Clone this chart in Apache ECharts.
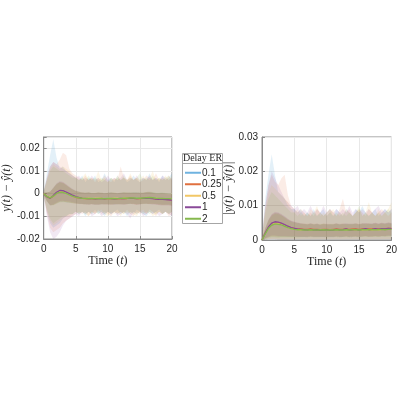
<!DOCTYPE html>
<html>
<head>
<meta charset="utf-8">
<script src="https://cdn.jsdelivr.net/npm/echarts@6/dist/echarts.min.js"></script>
<style>
  html, body { margin: 0; padding: 0; background: #fff; }
  #chart { width: 400px; height: 400px; }
</style>
</head>
<body>
<div id="chart"></div>
<script>
// time grid (t)
const T = [0, 0.5, 1, 1.5, 2, 2.5, 3, 3.5, 4, 4.5,
  5, 5.5, 6, 6.5, 7, 7.5, 8, 8.5, 9, 9.5,
  10, 10.5, 11, 11.5, 12, 12.5, 13, 13.5, 14, 14.5,
  15, 15.5, 16, 16.5, 17, 17.5, 18, 18.5, 19, 19.5, 20];

const delays = ['0.1', '0.25', '0.5', '1', '2'];
const lineColors = ['#6fb3e0', '#e0703f', '#f2c766', '#8a4a99', '#86b84e'];
const bandColors = ['#0072BD', '#D95319', '#EDB120', '#7E2F8E', '#77AC30'];

const xTicks = [0, 5, 10, 15, 20];

// ---- left panel: y(t) - yhat(t) ----
const meanL1 = [0, -0.0012, -0.0019, -0.0010, 0.0003, 0.0009, 0.0008, 0.0002, -0.0005, -0.0010,
  -0.0015, -0.0018, -0.0020, -0.0021, -0.0020, -0.0021, -0.0022, -0.0021, -0.0021, -0.0022,
  -0.0021, -0.0020, -0.0021, -0.0022, -0.0021, -0.0020, -0.0020, -0.0019, -0.0019, -0.0020,
  -0.0021, -0.0020, -0.0018, -0.0018, -0.0019, -0.0021, -0.0022, -0.0022, -0.0023, -0.0024, -0.0025];
const meanL2 = [0, -0.0013, -0.0020, -0.0011, 0.0002, 0.0010, 0.0009, 0.0003, -0.0004, -0.0011,
  -0.0016, -0.0019, -0.0021, -0.0022, -0.0021, -0.0022, -0.0023, -0.0022, -0.0021, -0.0023,
  -0.0022, -0.0021, -0.0022, -0.0023, -0.0022, -0.0021, -0.0021, -0.0020, -0.0021, -0.0022,
  -0.0022, -0.0021, -0.0019, -0.0019, -0.0021, -0.0023, -0.0024, -0.0024, -0.0025, -0.0026, -0.0027];
const meanL3 = [0, -0.0011, -0.0018, -0.0009, 0.0004, 0.0010, 0.0009, 0.0003, -0.0004, -0.0010,
  -0.0014, -0.0017, -0.0019, -0.0020, -0.0020, -0.0021, -0.0021, -0.0020, -0.0021, -0.0022,
  -0.0021, -0.0021, -0.0020, -0.0021, -0.0021, -0.0020, -0.0019, -0.0019, -0.0020, -0.0021,
  -0.0020, -0.0019, -0.0018, -0.0019, -0.0020, -0.0021, -0.0022, -0.0023, -0.0023, -0.0024, -0.0025];
const meanL4 = [0, -0.0013, -0.0020, -0.0008, 0.0006, 0.0014, 0.0013, 0.0007, 0.0000, -0.0007,
  -0.0013, -0.0017, -0.0020, -0.0021, -0.0022, -0.0022, -0.0023, -0.0022, -0.0022, -0.0023,
  -0.0022, -0.0022, -0.0023, -0.0022, -0.0021, -0.0022, -0.0021, -0.0020, -0.0021, -0.0022,
  -0.0021, -0.0020, -0.0019, -0.0020, -0.0022, -0.0024, -0.0025, -0.0025, -0.0026, -0.0027, -0.0028];
const meanL5 = [0, -0.0012, -0.0019, -0.0011, 0.0001, 0.0007, 0.0006, 0.0001, -0.0005, -0.0011,
  -0.0015, -0.0018, -0.0020, -0.0021, -0.0021, -0.0021, -0.0022, -0.0021, -0.0021, -0.0022,
  -0.0021, -0.0021, -0.0021, -0.0022, -0.0021, -0.0020, -0.0020, -0.0019, -0.0019, -0.0020,
  -0.0020, -0.0019, -0.0018, -0.0017, -0.0018, -0.0020, -0.0021, -0.0021, -0.0022, -0.0022, -0.0023];

// inner band half widths (above / below the mean)
const innerUpL = [0.0004, 0.0018, 0.0028, 0.0035, 0.0040, 0.0042, 0.0040, 0.0036, 0.0032, 0.0029,
  0.0027, 0.0026, 0.0025, 0.0025, 0.0026, 0.0024, 0.0025, 0.0026, 0.0025, 0.0024,
  0.0025, 0.0026, 0.0025, 0.0024, 0.0025, 0.0026, 0.0025, 0.0024, 0.0025, 0.0026,
  0.0025, 0.0024, 0.0025, 0.0026, 0.0025, 0.0024, 0.0025, 0.0026, 0.0025, 0.0024, 0.0025];
const innerDnL = [0.0004, 0.0020, 0.0032, 0.0040, 0.0045, 0.0046, 0.0044, 0.0040, 0.0035, 0.0031,
  0.0028, 0.0027, 0.0026, 0.0026, 0.0027, 0.0025, 0.0026, 0.0027, 0.0026, 0.0025,
  0.0026, 0.0027, 0.0026, 0.0025, 0.0026, 0.0027, 0.0026, 0.0025, 0.0026, 0.0027,
  0.0026, 0.0025, 0.0026, 0.0027, 0.0026, 0.0025, 0.0026, 0.0027, 0.0026, 0.0025, 0.0026];

// outer (min/max) bands
const hiL1 = [0.001, 0.009, 0.017, 0.024, 0.016, 0.011, 0.012, 0.010, 0.009, 0.008,
  0.007, 0.006, 0.008, 0.005, 0.007, 0.006, 0.008, 0.005, 0.006, 0.009,
  0.006, 0.007, 0.005, 0.008, 0.006, 0.007, 0.005, 0.006, 0.008, 0.006,
  0.005, 0.007, 0.006, 0.009, 0.006, 0.007, 0.005, 0.008, 0.006, 0.007, 0.009];
const loL1 = [-0.001, -0.008, -0.013, -0.015, -0.014, -0.013, -0.011, -0.010, -0.009, -0.009,
  -0.008, -0.009, -0.008, -0.010, -0.008, -0.009, -0.007, -0.009, -0.008, -0.010,
  -0.008, -0.009, -0.008, -0.007, -0.009, -0.008, -0.010, -0.008, -0.009, -0.007,
  -0.008, -0.009, -0.010, -0.008, -0.009, -0.008, -0.007, -0.009, -0.008, -0.009, -0.008];
const hiL2 = [0.001, 0.007, 0.012, 0.014, 0.013, 0.015, 0.018, 0.017, 0.011, 0.009,
  0.008, 0.007, 0.006, 0.008, 0.006, 0.007, 0.005, 0.007, 0.006, 0.008,
  0.006, 0.005, 0.007, 0.006, 0.012, 0.007, 0.006, 0.008, 0.006, 0.007,
  0.005, 0.006, 0.008, 0.007, 0.006, 0.009, 0.006, 0.007, 0.006, 0.008, 0.006];
const loL2 = [-0.001, -0.009, -0.015, -0.017, -0.016, -0.015, -0.013, -0.012, -0.011, -0.010,
  -0.009, -0.008, -0.009, -0.008, -0.010, -0.008, -0.009, -0.007, -0.009, -0.008,
  -0.009, -0.010, -0.008, -0.009, -0.008, -0.009, -0.007, -0.009, -0.010, -0.008,
  -0.009, -0.008, -0.009, -0.007, -0.008, -0.010, -0.008, -0.009, -0.008, -0.010, -0.009];
const hiL3 = [0.001, 0.006, 0.011, 0.013, 0.012, 0.011, 0.012, 0.011, 0.010, 0.008,
  0.007, 0.006, 0.007, 0.009, 0.006, 0.007, 0.006, 0.010, 0.006, 0.007,
  0.005, 0.007, 0.006, 0.008, 0.006, 0.007, 0.006, 0.009, 0.006, 0.007,
  0.006, 0.008, 0.006, 0.007, 0.010, 0.006, 0.007, 0.006, 0.008, 0.006, 0.008];
const loL3 = [-0.001, -0.008, -0.012, -0.014, -0.013, -0.012, -0.011, -0.010, -0.010, -0.009,
  -0.008, -0.009, -0.008, -0.009, -0.010, -0.008, -0.009, -0.008, -0.007, -0.009,
  -0.010, -0.008, -0.009, -0.008, -0.010, -0.008, -0.009, -0.008, -0.009, -0.010,
  -0.008, -0.007, -0.009, -0.008, -0.010, -0.009, -0.008, -0.009, -0.008, -0.009, -0.008];
const hiL4 = [0.001, 0.007, 0.012, 0.014, 0.013, 0.012, 0.011, 0.010, 0.009, 0.008,
  0.007, 0.008, 0.006, 0.007, 0.006, 0.008, 0.006, 0.007, 0.005, 0.006,
  0.008, 0.006, 0.007, 0.006, 0.007, 0.009, 0.006, 0.007, 0.006, 0.008,
  0.006, 0.007, 0.006, 0.008, 0.006, 0.007, 0.006, 0.008, 0.007, 0.006, 0.007];
const loL4 = [-0.001, -0.010, -0.017, -0.020, -0.019, -0.017, -0.014, -0.012, -0.011, -0.010,
  -0.009, -0.010, -0.008, -0.009, -0.008, -0.010, -0.009, -0.008, -0.010, -0.009,
  -0.008, -0.009, -0.008, -0.010, -0.009, -0.008, -0.009, -0.011, -0.008, -0.009,
  -0.008, -0.010, -0.009, -0.008, -0.009, -0.008, -0.010, -0.009, -0.008, -0.009, -0.010];
const hiL5 = [0.001, 0.006, 0.010, 0.012, 0.011, 0.010, 0.010, 0.009, 0.008, 0.007,
  0.007, 0.006, 0.007, 0.006, 0.008, 0.006, 0.007, 0.006, 0.007, 0.006,
  0.005, 0.007, 0.006, 0.007, 0.006, 0.008, 0.006, 0.007, 0.006, 0.007,
  0.009, 0.006, 0.007, 0.006, 0.008, 0.006, 0.007, 0.006, 0.007, 0.008, 0.006];
const loL5 = [-0.001, -0.007, -0.011, -0.013, -0.012, -0.011, -0.010, -0.010, -0.009, -0.009,
  -0.008, -0.009, -0.008, -0.009, -0.008, -0.009, -0.008, -0.009, -0.008, -0.009,
  -0.008, -0.009, -0.008, -0.009, -0.008, -0.009, -0.008, -0.009, -0.008, -0.009,
  -0.008, -0.009, -0.008, -0.009, -0.008, -0.009, -0.008, -0.009, -0.008, -0.009, -0.008];

// ---- right panel: |y(t) - yhat(t)| ----
const meanR1 = [0, 0.0019, 0.0036, 0.0046, 0.0050, 0.0049, 0.0046, 0.0042, 0.0038, 0.0035,
  0.0033, 0.0032, 0.0031, 0.0030, 0.0030, 0.0031, 0.0030, 0.0030, 0.0029, 0.0030,
  0.0030, 0.0029, 0.0030, 0.0031, 0.0030, 0.0030, 0.0031, 0.0030, 0.0031, 0.0031,
  0.0030, 0.0031, 0.0032, 0.0031, 0.0031, 0.0032, 0.0031, 0.0032, 0.0032, 0.0033, 0.0033];
const meanR2 = [0, 0.0020, 0.0037, 0.0047, 0.0051, 0.0050, 0.0047, 0.0043, 0.0039, 0.0036,
  0.0034, 0.0033, 0.0032, 0.0031, 0.0031, 0.0032, 0.0031, 0.0031, 0.0030, 0.0031,
  0.0031, 0.0030, 0.0031, 0.0032, 0.0031, 0.0031, 0.0032, 0.0031, 0.0032, 0.0032,
  0.0031, 0.0032, 0.0033, 0.0032, 0.0032, 0.0033, 0.0032, 0.0033, 0.0033, 0.0034, 0.0034];
const meanR3 = [0, 0.0019, 0.0035, 0.0045, 0.0049, 0.0048, 0.0045, 0.0041, 0.0037, 0.0034,
  0.0032, 0.0031, 0.0030, 0.0030, 0.0029, 0.0030, 0.0030, 0.0029, 0.0029, 0.0030,
  0.0029, 0.0029, 0.0030, 0.0030, 0.0029, 0.0030, 0.0030, 0.0029, 0.0030, 0.0030,
  0.0030, 0.0030, 0.0031, 0.0030, 0.0030, 0.0031, 0.0030, 0.0031, 0.0031, 0.0031, 0.0032];
const meanR4 = [0, 0.0020, 0.0038, 0.0049, 0.0053, 0.0052, 0.0049, 0.0045, 0.0040, 0.0036,
  0.0034, 0.0032, 0.0031, 0.0030, 0.0029, 0.0031, 0.0029, 0.0030, 0.0028, 0.0029,
  0.0030, 0.0028, 0.0029, 0.0031, 0.0029, 0.0030, 0.0032, 0.0029, 0.0030, 0.0031,
  0.0029, 0.0031, 0.0033, 0.0030, 0.0031, 0.0033, 0.0031, 0.0033, 0.0032, 0.0034, 0.0033];
const meanR5 = [0, 0.0018, 0.0034, 0.0043, 0.0047, 0.0046, 0.0044, 0.0040, 0.0036, 0.0033,
  0.0031, 0.0030, 0.0030, 0.0029, 0.0029, 0.0030, 0.0029, 0.0029, 0.0029, 0.0030,
  0.0029, 0.0029, 0.0029, 0.0030, 0.0029, 0.0029, 0.0030, 0.0029, 0.0030, 0.0030,
  0.0029, 0.0030, 0.0030, 0.0030, 0.0030, 0.0030, 0.0030, 0.0031, 0.0030, 0.0031, 0.0031];

const innerUpR = [0.0003, 0.0014, 0.0022, 0.0027, 0.0029, 0.0029, 0.0027, 0.0025, 0.0022, 0.0020,
  0.0019, 0.0018, 0.0017, 0.0017, 0.0016, 0.0017, 0.0016, 0.0017, 0.0016, 0.0017,
  0.0016, 0.0017, 0.0016, 0.0017, 0.0016, 0.0017, 0.0016, 0.0017, 0.0016, 0.0017,
  0.0016, 0.0017, 0.0016, 0.0017, 0.0016, 0.0017, 0.0016, 0.0017, 0.0016, 0.0017, 0.0016];
const innerDnR = [0.0000, 0.0015, 0.0028, 0.0036, 0.0040, 0.0040, 0.0037, 0.0033, 0.0029, 0.0026,
  0.0024, 0.0023, 0.0022, 0.0021, 0.0021, 0.0021, 0.0021, 0.0021, 0.0020, 0.0021,
  0.0021, 0.0020, 0.0021, 0.0021, 0.0021, 0.0021, 0.0021, 0.0021, 0.0021, 0.0021,
  0.0021, 0.0021, 0.0021, 0.0021, 0.0021, 0.0021, 0.0021, 0.0021, 0.0021, 0.0021, 0.0021];

const loR = [0, 0.0002, 0.0003, 0.0003, 0.0003, 0.0002, 0.0002, 0.0002, 0.0002, 0.0002,
  0.0002, 0.0002, 0.0002, 0.0002, 0.0002, 0.0002, 0.0002, 0.0002, 0.0002, 0.0002,
  0.0002, 0.0002, 0.0002, 0.0002, 0.0002, 0.0002, 0.0002, 0.0002, 0.0002, 0.0002,
  0.0002, 0.0002, 0.0002, 0.0002, 0.0002, 0.0002, 0.0002, 0.0002, 0.0002, 0.0002, 0.0002];
const hiR1 = [0.001, 0.012, 0.019, 0.025, 0.019, 0.014, 0.013, 0.012, 0.010, 0.009,
  0.009, 0.008, 0.009, 0.007, 0.008, 0.007, 0.009, 0.007, 0.008, 0.009,
  0.007, 0.008, 0.007, 0.009, 0.008, 0.007, 0.009, 0.008, 0.007, 0.009,
  0.008, 0.010, 0.008, 0.007, 0.008, 0.009, 0.007, 0.008, 0.009, 0.008, 0.009];
const hiR2 = [0.001, 0.010, 0.016, 0.019, 0.017, 0.016, 0.018, 0.019, 0.013, 0.010,
  0.009, 0.008, 0.009, 0.008, 0.007, 0.008, 0.007, 0.009, 0.008, 0.007,
  0.008, 0.009, 0.008, 0.007, 0.009, 0.012, 0.008, 0.009, 0.007, 0.008,
  0.009, 0.008, 0.007, 0.009, 0.008, 0.007, 0.008, 0.009, 0.008, 0.007, 0.008];
const hiR3 = [0.001, 0.009, 0.014, 0.016, 0.015, 0.014, 0.013, 0.012, 0.011, 0.009,
  0.008, 0.009, 0.007, 0.008, 0.007, 0.009, 0.008, 0.010, 0.007, 0.008,
  0.007, 0.008, 0.009, 0.007, 0.008, 0.007, 0.009, 0.008, 0.007, 0.008,
  0.009, 0.007, 0.008, 0.011, 0.008, 0.007, 0.009, 0.007, 0.008, 0.009, 0.011];
const hiR4 = [0.001, 0.010, 0.016, 0.020, 0.018, 0.016, 0.014, 0.012, 0.011, 0.010,
  0.009, 0.010, 0.008, 0.009, 0.008, 0.010, 0.008, 0.009, 0.008, 0.010,
  0.008, 0.009, 0.008, 0.009, 0.008, 0.009, 0.008, 0.010, 0.008, 0.009,
  0.008, 0.009, 0.008, 0.009, 0.008, 0.009, 0.010, 0.008, 0.009, 0.008, 0.009];
const hiR5 = [0.001, 0.008, 0.012, 0.014, 0.013, 0.012, 0.011, 0.010, 0.009, 0.008,
  0.008, 0.007, 0.008, 0.007, 0.008, 0.007, 0.008, 0.007, 0.008, 0.007,
  0.008, 0.009, 0.007, 0.008, 0.007, 0.008, 0.007, 0.008, 0.007, 0.008,
  0.010, 0.007, 0.008, 0.007, 0.008, 0.007, 0.008, 0.007, 0.008, 0.009, 0.008];

const leftMeans = [meanL1, meanL2, meanL3, meanL4, meanL5];
const leftHi = [hiL1, hiL2, hiL3, hiL4, hiL5];
const leftLo = [loL1, loL2, loL3, loL4, loL5];
const rightMeans = [meanR1, meanR2, meanR3, meanR4, meanR5];
const rightHi = [hiR1, hiR2, hiR3, hiR4, hiR5];
const rightLo = [loR, loR, loR, loR, loR];

const axisColor = '#8a8a8a';
const textColor = '#262626';
const sans = 'Liberation Sans';
const serif = 'Liberation Serif';

// shaded band between lo and hi, one polygon through the axis scales
function band(idx, lo, hi, color, opacity) {
  return {
    type: 'custom', xAxisIndex: idx, yAxisIndex: idx, silent: true,
    data: T.map((t, i) => [t, lo[i], hi[i]]),
    encode: { x: 0, y: [1, 2] },
    renderItem: (params, api) => {
      if (params.dataIndex !== 0) return;
      const pts = [];
      T.forEach((t, i) => pts.push(api.coord([t, hi[i]])));
      for (let i = T.length - 1; i >= 0; i--) pts.push(api.coord([T[i], lo[i]]));
      return { type: 'polygon', shape: { points: pts }, style: { fill: color, opacity: opacity } };
    }
  };
}

function panelSeries(idx, means, his, los, up, dn) {
  const out = [];
  means.forEach((m, k) => {
    out.push(band(idx, los[k], his[k], bandColors[k], 0.11));
  });
  means.forEach((m, k) => {
    const lo = m.map((v, i) => v - dn[i]);
    const hi = m.map((v, i) => v + up[i]);
    out.push(band(idx, lo, hi, bandColors[k], 0.09));
  });
  means.forEach((m, k) => {
    out.push({
      name: delays[k], type: 'line', xAxisIndex: idx, yAxisIndex: idx,
      data: T.map((t, i) => [t, m[i]]),
      symbol: 'none', showSymbol: false,
      lineStyle: { color: lineColors[k], width: 1.4 },
      itemStyle: { color: lineColors[k] }
    });
  });
  return out;
}

function xAxisOf(idx) {
  return {
    type: 'value', gridIndex: idx, min: 0, max: 20, interval: 5,
    name: '{a|Time (}{b|t}{a|)}', nameLocation: 'middle', nameGap: 15,
    nameTextStyle: {
      rich: {
        a: { fontFamily: serif, fontSize: 12, color: textColor },
        b: { fontFamily: serif, fontSize: 12, fontStyle: 'italic', color: textColor }
      }
    },
    axisLine: { show: true, onZero: false, lineStyle: { color: axisColor } },
    axisTick: { show: true, inside: true, length: 3, lineStyle: { color: axisColor } },
    axisLabel: { fontFamily: sans, fontSize: 10, color: textColor, margin: 5,
      formatter: v => (xTicks.includes(v) ? String(v) : '') },
    splitLine: { show: true, lineStyle: { color: '#e8e8e8' } }
  };
}

function yLabel(v) {
  const r = Math.round(v * 100);
  if (Math.abs(v * 100 - r) > 1e-6) return '';
  return String(r / 100);
}

const chart = echarts.init(document.getElementById('chart'));

const option = {
  animation: false,
  grid: [
    { left: 39, top: 137, width: 133, height: 102, show: true, borderColor: axisColor, borderWidth: 1 },
    { left: 262, top: 137, width: 134, height: 103, show: true, borderColor: axisColor, borderWidth: 1 }
  ],
  xAxis: [xAxisOf(0), xAxisOf(1)],
  yAxis: [
    {
      type: 'value', gridIndex: 0, min: -0.02, max: 0.025, interval: 0.01,
      name: 'y(t) − ŷ(t)', nameLocation: 'middle', nameGap: 26,
      nameTextStyle: { fontFamily: serif, fontSize: 12, fontStyle: 'italic', color: textColor },
      axisLine: { show: true, lineStyle: { color: axisColor } },
      axisTick: { show: true, inside: true, length: 3, lineStyle: { color: axisColor } },
      axisLabel: { fontFamily: sans, fontSize: 10, color: textColor, margin: 4, formatter: yLabel },
      splitLine: { show: true, lineStyle: { color: '#e8e8e8' } }
    },
    {
      type: 'value', gridIndex: 1, min: 0, max: 0.03, interval: 0.01,
      name: '|y(t) − ŷ(t)|', nameLocation: 'middle', nameGap: 17,
      nameTextStyle: { fontFamily: serif, fontSize: 12, fontStyle: 'italic', color: textColor },
      axisLine: { show: true, lineStyle: { color: axisColor } },
      axisTick: { show: true, inside: true, length: 3, lineStyle: { color: axisColor } },
      axisLabel: { fontFamily: sans, fontSize: 10, color: textColor, margin: 4, formatter: yLabel },
      splitLine: { show: true, lineStyle: { color: '#e8e8e8' } }
    }
  ],
  legend: {
    data: delays,
    orient: 'vertical',
    left: 185, top: 167,
    padding: 0,
    icon: 'rect',
    itemWidth: 16, itemHeight: 2, itemGap: 0,
    textStyle: { fontFamily: sans, fontSize: 10, color: textColor, lineHeight: 11.5, padding: [0, 0, 0, -4] },
    selectedMode: false
  },
  graphic: [
    { type: 'rect', shape: { x: 182.5, y: 153.5, width: 40, height: 70 },
      style: { fill: '#fff', stroke: '#a6a6a6', lineWidth: 1 }, z: -1 },
    { type: 'line', shape: { x1: 182.5, y1: 163.5, x2: 222.5, y2: 163.5 },
      style: { stroke: '#a6a6a6', lineWidth: 1 } },
    { type: 'text', x: 202.5, y: 158.5,
      style: { text: 'Delay ER', fontFamily: serif, fontSize: 10, fill: textColor,
        align: 'center', verticalAlign: 'middle' } }
  ],
  series: [
    ...panelSeries(0, leftMeans, leftHi, leftLo, innerUpL, innerDnL),
    ...panelSeries(1, rightMeans, rightHi, rightLo, innerUpR, innerDnR)
  ]
};

chart.setOption(option);
</script>
</body>
</html>
